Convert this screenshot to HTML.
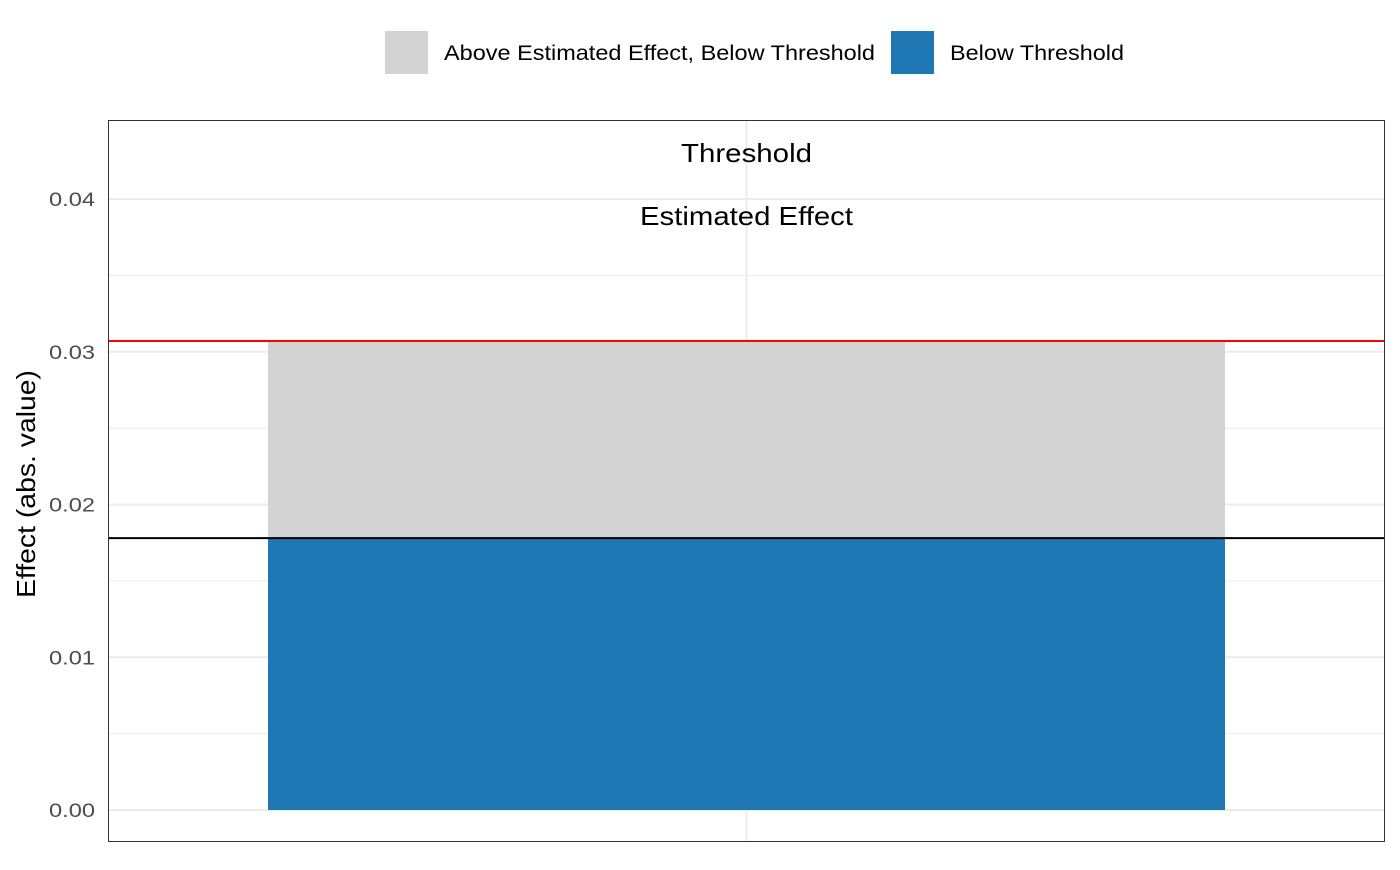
<!DOCTYPE html>
<html><head><meta charset="utf-8"><style>
body{margin:0;background:#fff;font-family:"Liberation Sans",Arial,sans-serif}
svg text{font-family:"Liberation Sans",Arial,sans-serif}
</style></head><body>
<svg id="chart" width="1400" height="865">
<g id="legend">
<g>
<rect x="385" y="31" width="43" height="43" fill="#d3d3d3"/>
<text x="444" y="60" font-size="21" textLength="431" lengthAdjust="spacingAndGlyphs" fill="#000">Above Estimated Effect, Below Threshold</text></g>
<g>
<rect x="891" y="31" width="43" height="43" fill="#1f78b4"/>
<text x="950" y="60" font-size="21" textLength="174" lengthAdjust="spacingAndGlyphs" fill="#000">Below Threshold</text></g>
</g>
<g id="grid"></g>
<g id="bars"></g>
<g id="lines"></g>
<g id="yaxis"></g>
<rect x="108.5" y="120.5" width="1276" height="721" fill="none" stroke="#333" stroke-width="1"/>
<text x="746.5" y="162" font-size="26" textLength="131" lengthAdjust="spacingAndGlyphs" text-anchor="middle">Threshold</text>
<text x="746.5" y="225" font-size="26" textLength="213" lengthAdjust="spacingAndGlyphs" text-anchor="middle">Estimated Effect</text>
<text transform="translate(35,484) rotate(-90)" font-size="26" textLength="228" lengthAdjust="spacingAndGlyphs" text-anchor="middle">Effect (abs. value)</text>
</svg>
<script>
const yTicks=[0,0.01,0.02,0.03,0.04];
const yTickLabels=["0.00","0.01","0.02","0.03","0.04"];
const estimatedEffect=[0.0178];
const threshold=[0.0307];
const ns="http://www.w3.org/2000/svg";
const y=v=>810-v*15275;
const left=108,right=1385;
function mk(tag,attrs,parent){const e=document.createElementNS(ns,tag);for(const k in attrs)e.setAttribute(k,attrs[k]);document.getElementById(parent).appendChild(e);return e;}
for(let i=0;i<yTicks.length-1;i++){const m=(yTicks[i]+yTicks[i+1])/2;
const l=mk('line',{x1:left,x2:right,y1:y(m),y2:y(m),stroke:'#ebebeb','stroke-width':1},'grid');

}
yTicks.forEach((t,i)=>{
const l=mk('line',{x1:left,x2:right,y1:y(t),y2:y(t),stroke:'#ebebeb','stroke-width':2},'grid');


const tx=mk('text',{x:95,y:y(t)+7,'font-size':19,textLength:46,lengthAdjust:'spacingAndGlyphs','text-anchor':'end',fill:'#4d4d4d'},'yaxis');
tx.textContent=yTickLabels[i];

});
const vl=mk('line',{x1:746.5,x2:746.5,y1:120,y2:842,stroke:'#ebebeb','stroke-width':2},'grid');


const b1=mk('rect',{x:268,width:957,y:y(threshold[0]),height:y(estimatedEffect[0])-y(threshold[0]),fill:'#d3d3d3'},'bars');


const b2=mk('rect',{x:268,width:957,y:y(estimatedEffect[0]),height:y(0)-y(estimatedEffect[0]),fill:'#1f78b4'},'bars');


const rl=mk('line',{x1:left,x2:right,y1:y(threshold[0]),y2:y(threshold[0]),stroke:'#ff0000','stroke-width':2},'lines');


const bl=mk('line',{x1:left,x2:right,y1:y(estimatedEffect[0]),y2:y(estimatedEffect[0]),stroke:'#000','stroke-width':2},'lines');


</script>
</body></html>
